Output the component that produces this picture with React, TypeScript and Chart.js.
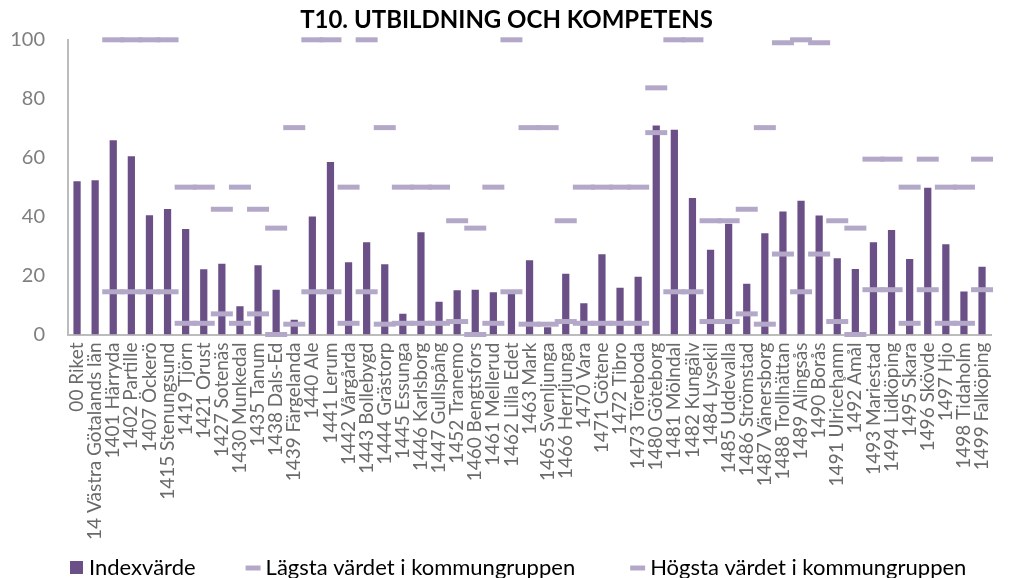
import React, { useEffect, useRef } from "react";
import { Chart, registerables } from "chart.js";

Chart.register(...registerables);

const categories: string[] = [
  "00 Riket", "14 Västra Götalands län", "1401 Härryda", "1402 Partille", "1407 Öckerö",
  "1415 Stenungsund", "1419 Tjörn", "1421 Orust", "1427 Sotenäs", "1430 Munkedal",
  "1435 Tanum", "1438 Dals-Ed", "1439 Färgelanda", "1440 Ale", "1441 Lerum",
  "1442 Vårgårda", "1443 Bollebygd", "1444 Grästorp", "1445 Essunga", "1446 Karlsborg",
  "1447 Gullspång", "1452 Tranemo", "1460 Bengtsfors", "1461 Mellerud", "1462 Lilla Edet",
  "1463 Mark", "1465 Svenljunga", "1466 Herrljunga", "1470 Vara", "1471 Götene",
  "1472 Tibro", "1473 Töreboda", "1480 Göteborg", "1481 Mölndal", "1482 Kungälv",
  "1484 Lysekil", "1485 Uddevalla", "1486 Strömstad", "1487 Vänersborg", "1488 Trollhättan",
  "1489 Alingsås", "1490 Borås", "1491 Ulricehamn", "1492 Åmål", "1493 Mariestad",
  "1494 Lidköping", "1495 Skara", "1496 Skövde", "1497 Hjo", "1498 Tidaholm", "1499 Falköping",
];

const indexValues: number[] = [
  52.0, 52.3, 65.9, 60.5, 40.5, 42.6, 35.8, 22.1, 24.0, 9.6,
  23.5, 15.2, 5.0, 40.0, 58.5, 24.5, 31.3, 23.8, 7.0, 34.7,
  11.1, 15.0, 15.2, 14.3, 14.0, 25.2, 2.5, 20.6, 10.6, 27.2,
  15.9, 19.6, 70.9, 69.5, 46.3, 28.8, 37.6, 17.2, 34.4, 41.7,
  45.4, 40.4, 25.9, 22.2, 31.3, 35.5, 25.6, 49.8, 30.6, 14.6, 23.0,
];

const lowestValues: (number | null)[] = [
  null, null, 14.5, 14.5, 14.5, 14.5, 3.8, 3.8, 7.0, 3.8,
  7.0, 0, 3.5, 14.5, 14.5, 3.8, 14.5, 3.5, 3.8, 3.8,
  3.8, 4.4, 0, 3.8, 14.5, 3.5, 3.5, 4.4, 3.8, 3.8,
  3.8, 3.8, 68.5, 14.5, 14.5, 4.4, 4.4, 7.0, 3.5, 27.3,
  14.5, 27.3, 4.4, 0, 15.2, 15.2, 3.8, 15.2, 3.8, 3.8, 15.2,
];

const highestValues: (number | null)[] = [
  null, null, 100, 100, 100, 100, 50, 50, 42.5, 50,
  42.5, 36.1, 70.2, 100, 100, 50, 100, 70.2, 50, 50,
  50, 38.6, 36.1, 50, 100, 70.2, 70.2, 38.6, 50, 50,
  50, 50, 83.7, 100, 100, 38.6, 38.6, 42.5, 70.2, 99,
  100, 99, 38.6, 36.1, 59.5, 59.5, 50, 59.5, 50, 50, 59.5,
];

const yTicks: number[] = [0, 20, 40, 60, 80, 100];

const seriesNames: string[] = [
  "Indexvärde",
  "Lägsta värdet i kommungruppen",
  "Högsta värdet i kommungruppen",
];

const BAR_COLOR = "#6a5087";
const MARK_COLOR = "#b4a8c9";
const FONT = "Lato, 'Open Sans', sans-serif";

// Legend drawn in the bottom strip reserved through layout padding
const bottomLegend = {
  id: "bottomLegend",
  afterDraw(chart: any) {
    const ctx = chart.ctx as CanvasRenderingContext2D;
    const area = chart.chartArea;
    const y = chart.height - 11;
    const gaps = [50, 55, 0];
    ctx.save();
    ctx.font = `22px ${FONT}`;
    ctx.textBaseline = "middle";
    ctx.textAlign = "left";
    let x = area.left + 2;
    seriesNames.forEach((name, i) => {
      if (i === 0) {
        ctx.fillStyle = BAR_COLOR;
        ctx.fillRect(x, y - 6, 13, 13);
        x += 19;
      } else {
        ctx.strokeStyle = MARK_COLOR;
        ctx.lineWidth = 5;
        ctx.beginPath();
        ctx.moveTo(x, y + 1);
        ctx.lineTo(x + 15, y + 1);
        ctx.stroke();
        x += 20;
      }
      ctx.fillStyle = "#000000";
      ctx.fillText(name, x, y + 1);
      x += ctx.measureText(name).width + gaps[i];
    });
    ctx.restore();
  },
};

export default function App() {
  const ref = useRef<HTMLCanvasElement | null>(null);

  useEffect(() => {
    if (!ref.current) return;
    const chart = new Chart(ref.current, {
      type: "bar",
      data: {
        labels: categories,
        datasets: [
          {
            type: "bar",
            label: seriesNames[0],
            data: indexValues,
            backgroundColor: BAR_COLOR,
            borderWidth: 0,
            barPercentage: 0.4,
            categoryPercentage: 1,
            order: 3,
          },
          {
            type: "line",
            label: seriesNames[1],
            data: lowestValues,
            showLine: false,
            pointStyle: "line",
            pointRadius: 11,
            pointBorderWidth: 5,
            pointBorderColor: MARK_COLOR,
            borderColor: MARK_COLOR,
            backgroundColor: MARK_COLOR,
            clip: false,
            order: 2,
          } as any,
          {
            type: "line",
            label: seriesNames[2],
            data: highestValues,
            showLine: false,
            pointStyle: "line",
            pointRadius: 11,
            pointBorderWidth: 5,
            pointBorderColor: MARK_COLOR,
            borderColor: MARK_COLOR,
            backgroundColor: MARK_COLOR,
            clip: false,
            order: 1,
          } as any,
        ],
      },
      options: {
        responsive: false,
        animation: false,
        layout: { padding: { left: 0, right: 0, top: 0, bottom: 30 } },
        plugins: {
          tooltip: { enabled: false },
          legend: { display: false },
          title: {
            display: true,
            text: "T10. UTBILDNING OCH KOMPETENS",
            color: "#000000",
            font: { family: FONT, size: 24, weight: "bold" },
            padding: { top: 6, bottom: 5 },
          },
        },
        scales: {
          x: {
            grid: { display: false, drawTicks: false },
            border: { display: true, color: "#bcbcbc", width: 2 },
            ticks: {
              autoSkip: false,
              minRotation: 90,
              maxRotation: 90,
              padding: 8,
              color: "#6a6a6a",
              font: { family: FONT, size: 19 },
            },
          },
          y: {
            min: 0,
            max: 100,
            afterBuildTicks: (scale: any) => {
              scale.ticks = yTicks.map((v) => ({ value: v }));
            },
            afterFit: (scale: any) => {
              scale.width = 68;
            },
            grid: { display: false, drawTicks: false },
            border: { display: true, color: "#bcbcbc", width: 2 },
            ticks: {
              padding: 23,
              color: "#7f7f7f",
              font: { family: FONT, size: 20 },
            },
          },
        },
      },
      plugins: [bottomLegend],
    });
    return () => chart.destroy();
  }, []);

  return (
    <div style={{ position: "absolute", left: 0, top: 0, width: 1013, height: 578 }}>
      <canvas ref={ref} width={1013} height={578} />
    </div>
  );
}
